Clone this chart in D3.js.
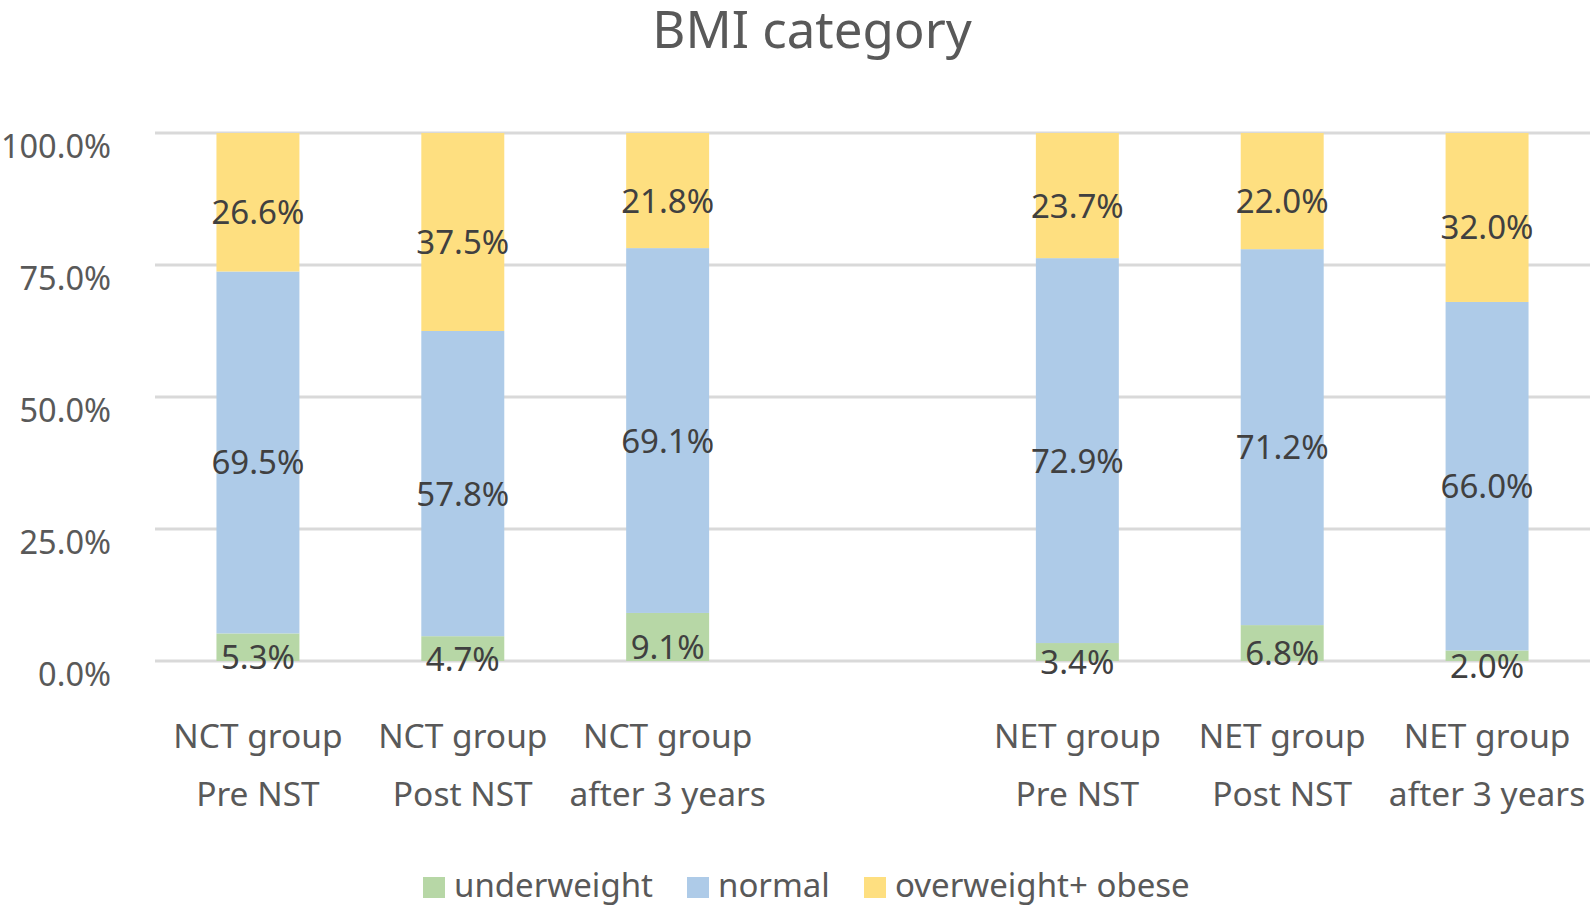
<!DOCTYPE html>
<html>
<head>
<meta charset="utf-8">
<script src="https://cdn.jsdelivr.net/npm/d3@7"></script>
<style>
  html, body { margin: 0; padding: 0; background: #fff; }
  svg { display: block; font-family: "Noto Sans", "Open Sans", sans-serif; }
</style>
</head>
<body>
<div id="chart"></div>
<script>
// slots along the x axis; "gap" is the empty slot between the two groups
const slots = ['nct-pre', 'nct-post', 'nct-3y', 'gap', 'net-pre', 'net-post', 'net-3y'];
const categoryLines = [
  ['NCT group', 'Pre NST'],
  ['NCT group', 'Post NST'],
  ['NCT group', 'after 3 years'],
  ['', ''],
  ['NET group', 'Pre NST'],
  ['NET group', 'Post NST'],
  ['NET group', 'after 3 years']
];
const seriesNames = ['underweight', 'normal', 'overweight+ obese'];
const underweight = [5.3, 4.7, 9.1, null, 3.4, 6.8, 2.0];
const normal = [69.5, 57.8, 69.1, null, 72.9, 71.2, 66.0];
const overweight = [26.6, 37.5, 21.8, null, 23.7, 22.0, 32.0];
const yTicks = [0, 0.25, 0.5, 0.75, 1];
const colors = ['#b7d7a6', '#aecbe8', '#fedf80'];

const W = 1594, H = 907;
const M = { top: 133, right: 4, bottom: 246, left: 155 };
const innerW = W - M.left - M.right;
const innerH = H - M.top - M.bottom;

const rows = slots.map((s, i) => ({
  slot: s,
  underweight: underweight[i],
  normal: normal[i],
  'overweight+ obese': overweight[i]
})).filter((d) => d.underweight != null);

// Excel 100% stacked column: each column is scaled to its own total
const stack = d3.stack().keys(seriesNames).offset(d3.stackOffsetExpand);
const layers = stack(rows);

const x = d3.scaleBand().domain(slots).range([0, innerW]).paddingInner(0.595).paddingOuter(0.3);
const y = d3.scaleLinear().domain([0, 1]).range([innerH, 0]);
const color = d3.scaleOrdinal().domain(seriesNames).range(colors);

const svg = d3.select('#chart').append('svg').attr('width', W).attr('height', H);

svg.append('text')
  .attr('x', 812)
  .attr('y', 48)
  .attr('text-anchor', 'middle')
  .attr('fill', '#595959')
  .attr('font-size', 51)
  .text('BMI category');

const g = svg.append('g').attr('transform', `translate(${M.left},${M.top})`);

// gridlines
g.selectAll('line.grid')
  .data(yTicks)
  .join('line')
  .attr('class', 'grid')
  .attr('x1', 0)
  .attr('x2', innerW)
  .attr('y1', (d) => y(d))
  .attr('y2', (d) => y(d))
  .attr('stroke', '#d9d9d9')
  .attr('stroke-width', 3);

// y axis labels
const yAxis = g.append('g')
  .call(d3.axisLeft(y).tickValues(yTicks).tickFormat(d3.format('.1%')).tickSize(0).tickPadding(44));
yAxis.select('.domain').remove();
yAxis.selectAll('text')
  .attr('fill', '#595959')
  .attr('font-size', 32.5)
  .attr('font-family', '"Noto Sans", sans-serif')
  .attr('dy', 24)
  .attr('dominant-baseline', 'auto');

// bars
const layer = g.selectAll('g.layer')
  .data(layers)
  .join('g')
  .attr('class', 'layer')
  .attr('fill', (d) => color(d.key));

layer.selectAll('rect')
  .data((d) => d)
  .join('rect')
  .attr('x', (d) => x(d.data.slot))
  .attr('width', x.bandwidth())
  .attr('y', (d) => y(d[1]))
  .attr('height', (d) => y(d[0]) - y(d[1]));

// data labels
const labels = [];
layers.forEach((l) => l.forEach((d) => labels.push({ key: l.key, d })));
g.selectAll('text.val')
  .data(labels)
  .join('text')
  .attr('class', 'val')
  .attr('x', (o) => x(o.d.data.slot) + x.bandwidth() / 2)
  .attr('y', (o) => (y(o.d[0]) + y(o.d[1])) / 2 + 22)
  .attr('text-anchor', 'middle')
  .attr('fill', '#404040')
  .attr('font-size', 33)
  .text((o) => o.d.data[o.key].toFixed(1) + '%');

// category labels
const xAxis = g.append('g').attr('transform', `translate(0,${innerH})`);
slots.forEach((s, i) => {
  const t = xAxis.append('text')
    .attr('x', x(s) + x.bandwidth() / 2)
    .attr('text-anchor', 'middle')
    .attr('fill', '#595959')
    .attr('font-size', 33.5);
  categoryLines[i].forEach((line, j) => {
    t.append('tspan')
      .attr('x', x(s) + x.bandwidth() / 2)
      .attr('y', 87 + j * 58)
      .text(line);
  });
});

// legend
const legendX = [423, 687, 864];
const legend = svg.append('g');
seriesNames.forEach((name, i) => {
  legend.append('rect')
    .attr('x', legendX[i])
    .attr('y', 877)
    .attr('width', 22)
    .attr('height', 21)
    .attr('fill', color(name));
  legend.append('text')
    .attr('x', legendX[i] + 31)
    .attr('y', 897)
    .attr('fill', '#595959')
    .attr('font-size', 33)
    .text(name);
});
</script>
</body>
</html>
